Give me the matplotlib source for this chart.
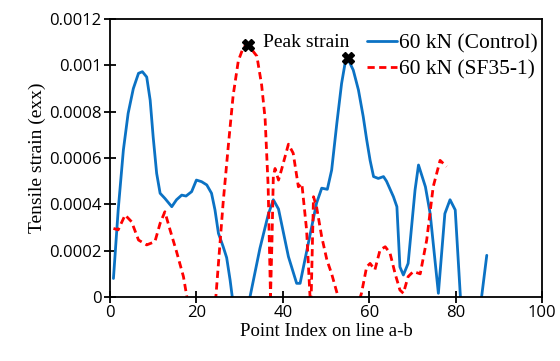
import matplotlib
matplotlib.use('Agg')
import matplotlib.pyplot as plt

# 60 kN (Control)
ctrl_x = [0.8, 1.9, 3.1, 4.2, 5.4, 6.6, 7.5, 8.5, 9.3, 10.0, 10.8, 11.6, 12.7, 14.3, 15.4, 16.6, 17.6,
          18.9, 20.0, 21.2, 22.4, 23.5, 24.3, 25.1, 26.2, 27.0, 27.8, 28.3, 30.3, 32.4, 34.7, 36.6,
          37.8, 39.0, 41.3, 43.2, 44.0, 45.9, 47.8, 49.0, 50.3, 51.3, 52.5, 53.6, 54.4, 55.2, 56.3,
          57.5, 58.6, 59.4, 60.2, 61.0, 62.1, 63.3, 64.0, 65.6, 66.4, 67.1, 67.9, 69.0, 70.6, 71.4,
          73.0, 74.1, 76.0, 77.5, 78.7, 79.9, 81.1, 83.5, 86.0, 87.2]
ctrl_y = [0.00008, 0.000376, 0.000635, 0.000793, 0.0009, 0.000966, 0.000973, 0.00095, 0.00085, 0.00069,
          0.000534, 0.000448, 0.000426, 0.00039, 0.00042, 0.00044, 0.000436, 0.000455, 0.000505,
          0.000498, 0.000484, 0.000448, 0.000376, 0.000275, 0.000217, 0.00017, 0.000073, 0.0, -0.00012,
          0.0, 0.00021, 0.000354, 0.00042, 0.00038, 0.000174, 0.000059, 0.000059, 0.000232, 0.000405,
          0.00047, 0.000465, 0.000548, 0.00075, 0.000922, 0.001009, 0.001023, 0.00098, 0.000894,
          0.00078, 0.00068, 0.00059, 0.00052, 0.000512, 0.00052, 0.0005, 0.000433, 0.00039, 0.00013,
          0.000095, 0.000145, 0.000462, 0.00057, 0.000476, 0.00036, 0.000016, 0.00036, 0.00042,
          0.000376, 0.0, -0.00012, 0.0, 0.00018]

# 60 kN (SF35-1)
sf_x = [0.8, 1.9, 3.5, 5.0, 6.6, 8.5, 10.4, 11.6, 12.7, 13.9, 15.4, 17.0, 17.8, 21.0, 24.5, 26.2, 27.4,
        28.5, 29.7, 30.9, 32.0, 34.0, 35.1, 35.9, 36.6, 37.15, 37.5, 37.8, 38.2, 39.0, 39.7, 41.3,
        42.4, 43.6, 44.4, 45.5, 46.3, 46.5, 47.1, 47.8, 49.0, 50.2, 51.3, 52.8, 55.5, 58.2, 59.4,
        60.2, 61.3, 62.5, 63.7, 64.8, 66.0, 67.1, 67.9, 69.0, 70.2, 71.8, 73.3, 74.8, 76.4, 77.9]
sf_y = [0.000296, 0.00029, 0.000354, 0.000325, 0.000246, 0.000225, 0.000239, 0.000318, 0.000368, 0.00029,
        0.000196, 0.000088, 0.0, -0.00025, 0.0, 0.00041, 0.000656, 0.00087, 0.00102, 0.00108, 0.001088,
        0.00104, 0.000915, 0.00077, 0.00048, 0.0, 0.00025, 0.00052, 0.000555, 0.000505, 0.00055,
        0.00066, 0.000621, 0.000476, 0.00049, 0.00029, 0.0, -0.00005, 0.000433, 0.00039, 0.00026,
        0.00016, 0.0001, 0.0, -0.00015, 0.000016, 0.00013, 0.000145, 0.000117, 0.000203, 0.000217,
        0.00019, 0.0001, 0.00003, 0.000016, 0.000088, 0.00011, 0.0001, 0.000246, 0.000476, 0.00059,
        0.000563]

peak_x = [32, 55]
peak_y = [0.001088, 0.00103]

xticks = [0, 20, 40, 60, 80, 100]
yticks = [0, 0.0002, 0.0004, 0.0006, 0.0008, 0.001, 0.0012]
ytick_labels = ['0', '0.0002', '0.0004', '0.0006', '0.0008', '0.001', '0.0012']

serif = 'Liberation Serif'
sans = 'Open Sans'

fig = plt.figure(figsize=(5.6, 3.61), dpi=100)
ax = fig.add_axes([0.1964, 0.1773, 0.7716, 0.7697])

ax.plot(ctrl_x, ctrl_y, color='#0b72c4', lw=2.0, label='60 kN (Control)',
        solid_joinstyle='round', solid_capstyle='round')
ax.plot(sf_x, sf_y, color='#ff0000', lw=2.0, ls=(0, (2.6, 1.6)), label='60 kN (SF35-1)')
ax.plot(peak_x, peak_y, ls='none', marker='X', color='black', markersize=8, zorder=5)
ax.text(35.3, 0.0011, 'Peak strain', fontsize=14, family=serif, va='center', ha='left')

ax.set_xlim(0, 100)
ax.set_ylim(0, 0.0012)
ax.set_xticks(xticks)
ax.set_yticks(yticks)
ax.set_yticklabels(ytick_labels)
for lab in ax.get_xticklabels() + ax.get_yticklabels():
    lab.set_family(sans)
    lab.set_fontsize(12)
ax.tick_params(direction='inout', length=8, width=1.3, pad=2)
for s in ax.spines.values():
    s.set_linewidth(1.3)

ax.set_xlabel('Point Index on line a-b', fontsize=13.5, family=serif, labelpad=1)
ax.set_ylabel('Tensile strain (exx)', fontsize=14, family=serif, labelpad=2)

ax.legend(loc='upper right', bbox_to_anchor=(1.0, 0.965), frameon=False,
          prop={'family': serif, 'size': 15.5}, handlelength=1.4, handletextpad=0.1,
          labelspacing=0.3, borderaxespad=0.1, borderpad=0.1)

fig.savefig('out.png', dpi=100)
